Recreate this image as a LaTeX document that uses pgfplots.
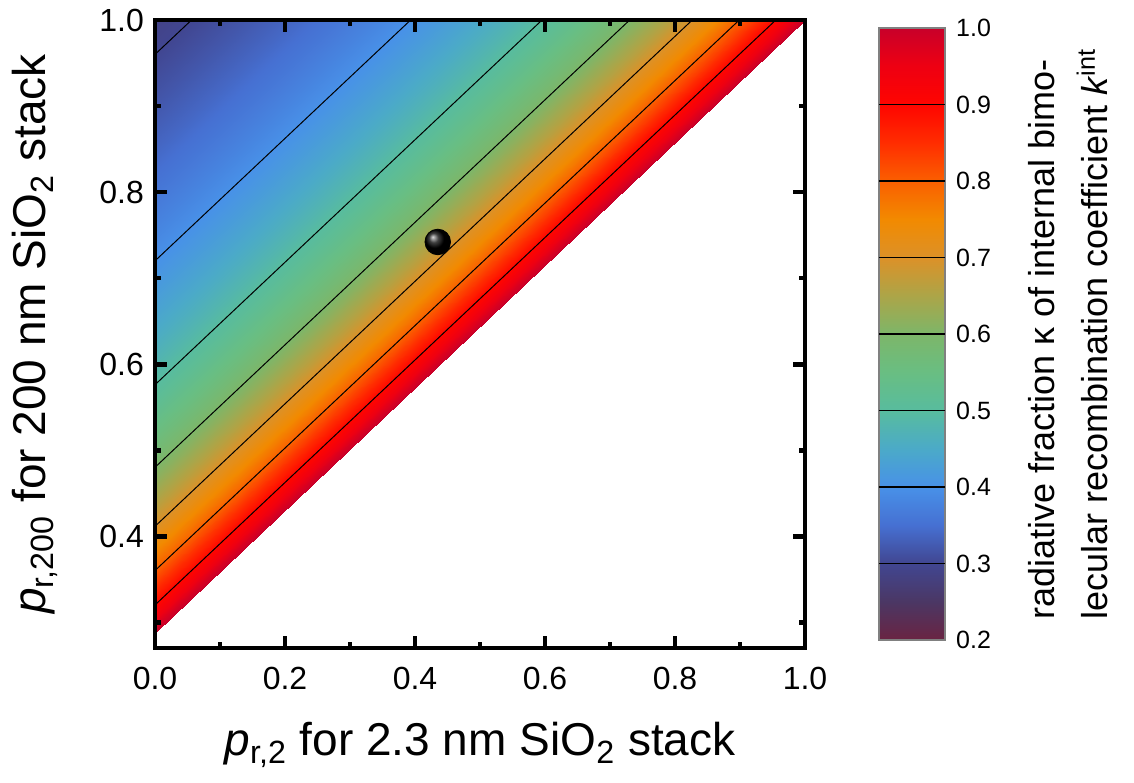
\documentclass[border=0pt]{standalone}
\usepackage{pgfplots}
\pgfplotsset{compat=1.18}
\usepackage{pgfplotstable}
\usepackage{fontspec}
\setmainfont{Liberation Sans}

% kappa along lines of constant kappa: left end on x=0, right end on y=1
\pgfplotstableread{
x y k
0 1 0.288
0 1 0.288
0 0.96 0.30
0.0562 1 0.30
0 0.9 0.32
0.1404 1 0.32
0 0.84706 0.34
0.2148 1 0.34
0 0.8 0.36
0.2809 1 0.36
0 0.75789 0.38
0.3400 1 0.38
0 0.72 0.40
0.3933 1 0.40
0 0.68571 0.42
0.4414 1 0.42
0 0.65455 0.44
0.4852 1 0.44
0 0.62609 0.46
0.5252 1 0.46
0 0.6 0.48
0.5618 1 0.48
0 0.576 0.50
0.5955 1 0.50
0 0.55385 0.52
0.6266 1 0.52
0 0.53333 0.54
0.6554 1 0.54
0 0.51429 0.56
0.6822 1 0.56
0 0.49655 0.58
0.7071 1 0.58
0 0.48 0.60
0.7303 1 0.60
0 0.46452 0.62
0.7521 1 0.62
0 0.45 0.64
0.7725 1 0.64
0 0.43636 0.66
0.7916 1 0.66
0 0.42353 0.68
0.8097 1 0.68
0 0.41143 0.70
0.8266 1 0.70
0 0.4 0.72
0.8427 1 0.72
0 0.38919 0.74
0.8579 1 0.74
0 0.37895 0.76
0.8723 1 0.76
0 0.36923 0.78
0.8859 1 0.78
0 0.36 0.80
0.8989 1 0.80
0 0.35122 0.82
0.9112 1 0.82
0 0.34286 0.84
0.9230 1 0.84
0 0.33488 0.86
0.9342 1 0.86
0 0.32727 0.88
0.9448 1 0.88
0 0.32 0.90
0.9551 1 0.90
0 0.31304 0.92
0.9648 1 0.92
0 0.30638 0.94
0.9742 1 0.94
0 0.3 0.96
0.9832 1 0.96
0 0.29388 0.98
0.9917 1 0.98
0 0.288 1.00
1 1 1.00
}\kapgrid

\begin{document}
\begin{tikzpicture}
\useasboundingbox (-77.5pt,-67pt) rectangle (489.5pt,324pt);
\begin{axis}[
    scale only axis,
    width=325pt, height=314pt,
    xmin=0, xmax=1, ymin=0.27, ymax=1,
    axis on top,
    axis line style={line width=2.4pt},
    tick style={line width=2.4pt, black},
    major tick length=5.8pt, minor tick length=3.2pt,
    xtick={0,0.2,0.4,0.6,0.8,1},
    xticklabels={0.0,0.2,0.4,0.6,0.8,1.0},
    minor xtick={0.1,0.3,0.5,0.7,0.9},
    ytick={0.4,0.6,0.8,1},
    yticklabels={0.4,0.6,0.8,1.0},
    minor ytick={0.3,0.5,0.7,0.9},
    ticklabel style={font=\fontsize{16}{19}\selectfont},
    xticklabel style={yshift=-6pt},
    yticklabel style={xshift=-2pt},
    xlabel={\textit{p}\textsubscript{r,2} for 2.3 nm SiO\textsubscript{2} stack},
    ylabel={\textit{p}\textsubscript{r,200} for 200 nm SiO\textsubscript{2} stack},
    every axis x label/.style={at={(axis description cs:0.5,-0.1545)}, anchor=center, font=\fontsize{23}{27}\selectfont},
    every axis y label/.style={at={(axis description cs:-0.1846,0.5)}, rotate=90, anchor=center, font=\fontsize{23}{27}\selectfont},
    colormap={kap}{
        rgb255(0cm)=(106,36,66); rgb255(1cm)=(75,55,100); rgb255(2cm)=(65,70,145);
        rgb255(3cm)=(70,112,210); rgb255(4cm)=(72,145,232); rgb255(5cm)=(75,170,200);
        rgb255(6cm)=(88,188,158); rgb255(7cm)=(105,190,130); rgb255(8cm)=(125,182,105);
        rgb255(9cm)=(172,165,72); rgb255(10cm)=(220,145,40); rgb255(11cm)=(242,138,0);
        rgb255(12cm)=(250,95,0); rgb255(13cm)=(255,45,0); rgb255(14cm)=(255,5,0);
        rgb255(15cm)=(238,0,18); rgb255(16cm)=(200,0,42)},
    point meta min=0.2, point meta max=1,
    colorbar right,
    colorbar/width=33pt,
    colorbar style={
        at={(parent axis.south east)}, anchor=south west,
        xshift=28.5pt, yshift=4pt,
        scale only axis, height=306pt,
        axis line style={draw=gray, line width=0.6pt},
        ytick={0.2,0.3,0.4,0.5,0.6,0.7,0.8,0.9,1},
        yticklabels={0.2,0.3,0.4,0.5,0.6,0.7,0.8,0.9,1.0},
        minor ytick={},
        major tick length=0pt,
        tick style={draw=none},
        yticklabel style={font=\fontsize{12.5}{14}\selectfont, xshift=2pt},
        extra y ticks={0.3,0.4,0.5,0.6,0.7,0.8,0.9},
        extra y tick labels={},
        extra y tick style={grid=major, major grid style={black, line width=0.6pt}},
        ylabel={radiative fraction κ of internal bimo-\\lecular recombination coefficient \textit{k}\textsuperscript{int}},
        every axis y label/.style={at={(axis description cs:1,0.5)}, xshift=61.5pt, rotate=90, anchor=center, align=left, font=\fontsize{18}{26.5}\selectfont},
    },
]
\addplot[surf, shader=interp, mesh/cols=2, point meta=explicit] table[x=x, y=y, meta=k] {\kapgrid};
\addplot[black, line width=0.5pt] coordinates {(0,0.96) (0.0562,1)};
\addplot[black, line width=0.5pt] coordinates {(0,0.72) (0.3933,1)};
\addplot[black, line width=0.5pt] coordinates {(0,0.576) (0.5955,1)};
\addplot[black, line width=0.5pt] coordinates {(0,0.48) (0.7303,1)};
\addplot[black, line width=0.5pt] coordinates {(0,0.41143) (0.8266,1)};
\addplot[black, line width=0.5pt] coordinates {(0,0.36) (0.8989,1)};
\addplot[black, line width=0.5pt] coordinates {(0,0.32) (0.9551,1)};
\addplot[only marks, mark=ball, mark size=6.4pt, mark options={ball color=black}] coordinates {(0.435,0.742)};
\end{axis}
\end{tikzpicture}
\end{document}
